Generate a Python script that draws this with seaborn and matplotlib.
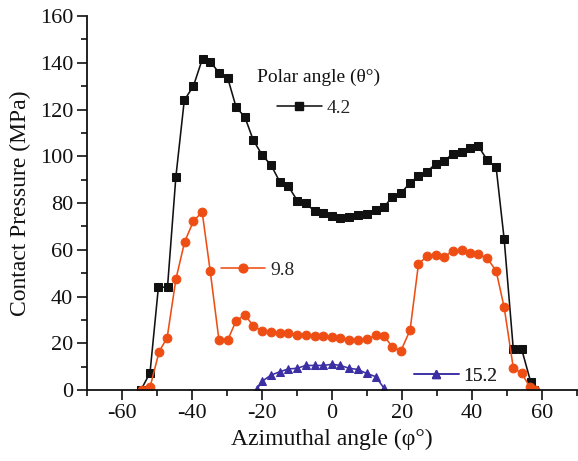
import matplotlib
matplotlib.use("Agg")
import matplotlib.pyplot as plt
from matplotlib.lines import Line2D
from matplotlib.ticker import MultipleLocator
import pandas as pd
import seaborn as sns

# Contact pressure vs. azimuthal angle for three polar angles
phi_42 = [-54.6, -52.0, -49.6, -47.0, -44.6, -42.2, -39.6, -37.0, -34.8, -32.2,
          -29.8, -27.4, -24.9, -22.5, -19.9, -17.4, -14.9, -12.5, -9.9, -7.5,
          -5.0, -2.5, 0.0, 2.4, 4.9, 7.3, 9.9, 12.5, 14.8, 17.2,
          19.7, 22.3, 24.7, 27.1, 29.6, 32.0, 34.5, 37.1, 39.4, 41.8,
          44.4, 46.9, 49.2, 51.8, 54.2, 56.8, 57.6]
p_42 = [0, 7.3, 44.0, 44.0, 91.3, 124.0, 130.0, 141.8, 140.5, 135.6,
        133.5, 121.0, 116.8, 106.9, 100.4, 96.2, 89.0, 87.2, 81.0, 79.8,
        76.6, 75.9, 74.5, 73.4, 74.1, 75.0, 75.5, 77.2, 78.1, 82.6,
        84.2, 88.6, 91.5, 93.3, 96.8, 97.9, 101.1, 101.8, 103.7, 104.3,
        98.3, 95.2, 64.4, 17.4, 17.4, 3.3, 0]

phi_98 = [-54.4, -52.0, -49.4, -47.1, -44.6, -42.1, -39.6, -37.1, -34.8, -32.3,
          -29.8, -27.4, -24.9, -22.5, -19.9, -17.4, -14.9, -12.5, -9.9, -7.5,
          -5.0, -2.5, 0.0, 2.4, 4.9, 7.3, 9.9, 12.5, 14.8, 17.2,
          19.7, 22.3, 24.7, 27.1, 29.6, 32.0, 34.5, 37.1, 39.4, 41.8,
          44.4, 46.9, 49.2, 51.8, 54.2, 56.6, 58.0]
p_98 = [0, 1.1, 16.4, 22.4, 47.4, 63.4, 72.2, 76.2, 50.9, 21.4,
        21.4, 29.6, 32.1, 27.5, 25.2, 24.9, 24.2, 24.2, 23.5, 23.5,
        23.2, 23.2, 22.5, 22.1, 21.6, 21.2, 21.7, 23.4, 23.2, 18.5,
        16.8, 25.6, 53.8, 57.3, 57.7, 57.0, 59.4, 59.8, 58.4, 58.1,
        56.3, 50.9, 35.3, 9.5, 7.1, 1.1, 0]

phi_152 = [-21.5, -19.9, -17.4, -14.9, -12.5, -9.9, -7.5, -5.0, -2.5, 0.0,
           2.4, 4.9, 7.3, 9.9, 12.5, 14.9]
p_152 = [0.3, 3.8, 6.4, 7.8, 9.0, 9.3, 10.5, 10.5, 10.5, 11.0,
         10.5, 9.3, 8.8, 7.1, 5.7, 0.7]

series_labels = ["4.2", "9.8", "15.2"]
colors = ["#111111", "#EE4E14", "#3B2FA3"]
markers = ["s", "o", "^"]
msizes = [5.4, 6.3, 6.3]

sns.set_theme(style="ticks")
plt.rcParams["font.family"] = ["Liberation Serif", "DejaVu Serif"]
plt.rcParams["axes.unicode_minus"] = False

fig = plt.figure(figsize=(5.78, 4.61), dpi=100)
ax = fig.add_axes([87 / 578, 1 - 390 / 461, 490 / 578, 374 / 461])

frames = [
    pd.DataFrame({"phi": phi_42, "p": p_42}),
    pd.DataFrame({"phi": phi_98, "p": p_98}),
    pd.DataFrame({"phi": phi_152, "p": p_152}),
]

for df, c, m, ms in zip(frames, colors, markers, msizes):
    sns.lineplot(data=df, x="phi", y="p", ax=ax, color=c, marker=m,
                 markersize=ms, markeredgecolor=c, linewidth=1.15,
                 sort=False, estimator=None, legend=False)

ax.set_xlim(-70, 70)
ax.set_ylim(0, 160)
ax.xaxis.set_major_locator(MultipleLocator(20))
ax.xaxis.set_minor_locator(MultipleLocator(10))
ax.yaxis.set_major_locator(MultipleLocator(20))
ax.yaxis.set_minor_locator(MultipleLocator(10))
ax.tick_params(which="major", direction="out", length=7, width=1.2,
               labelsize=16, colors="#111111", pad=3)
ax.tick_params(which="minor", direction="out", length=4, width=1.2,
               colors="#111111")
for s in ["top", "right"]:
    ax.spines[s].set_visible(False)
for s in ["left", "bottom"]:
    ax.spines[s].set_linewidth(1.3)
    ax.spines[s].set_color("#111111")

ax.set_xlabel("Azimuthal angle (φ°)", fontsize=17, labelpad=4, color="#111111")
ax.set_ylabel("Contact Pressure (MPa)", fontsize=17, labelpad=6, color="#111111")

# One legend per series, placed beside its curve
ax.text(0.347, 0.837, "Polar angle (θ°)", transform=ax.transAxes,
        fontsize=14, ha="left", va="center", color="#111111")
anchors = [(0.388, 0.754), (0.273, 0.321), (0.667, 0.037)]
for lab, c, m, ms, anc in zip(series_labels, colors, markers, msizes, anchors):
    h = Line2D([], [], color=c, marker=m, markersize=ms, markeredgecolor=c,
               linewidth=1.15)
    leg = ax.legend([h], [lab], loc="center left", bbox_to_anchor=anc,
                    frameon=False, fontsize=14, handlelength=2.3,
                    handletextpad=0.25, borderpad=0, borderaxespad=0,
                    numpoints=1)
    ax.add_artist(leg)

fig.savefig("out.png", dpi=100)
